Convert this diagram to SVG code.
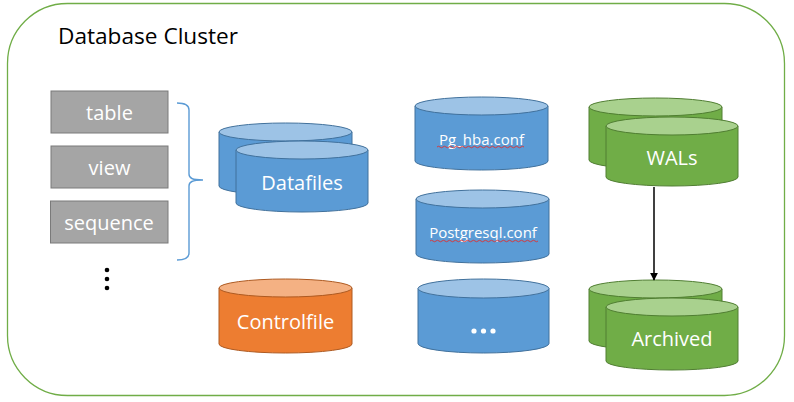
<svg xmlns="http://www.w3.org/2000/svg" width="794" height="402" viewBox="0 0 794 402">
<style>
text{font-family:"Open Sans","Noto Sans","Liberation Sans",sans-serif;fill:#fff;text-anchor:middle;dominant-baseline:central}
.title{fill:#000;text-anchor:start;font-size:21px;dominant-baseline:auto}
.box{fill:#a5a5a5;stroke:#7a7a7a;stroke-width:1}
.bb{fill:#5b9bd5;stroke:#41719c;stroke-width:1}
.bt{fill:#9dc3e6;stroke:#41719c;stroke-width:1}
.gb{fill:#70ad47;stroke:#507e32;stroke-width:1}
.gt{fill:#a9d18e;stroke:#507e32;stroke-width:1}
.ob{fill:#ed7d31;stroke:#ae5a21;stroke-width:1}
.ot{fill:#f4b183;stroke:#ae5a21;stroke-width:1}
.big{font-size:20px}
.small{font-size:15px}
.sq{fill:none;stroke:#e03030;stroke-width:0.9}
</style>
<defs>
<marker id="ah" viewBox="0 0 10 10" refX="9" refY="5" markerWidth="8" markerHeight="8" orient="auto" markerUnits="userSpaceOnUse">
<path d="M0,0 L10,5 L0,10 Z" fill="#000"/>
</marker>
</defs>
<rect x="7.5" y="3.5" width="777" height="392" rx="60" ry="60" fill="#fff" stroke="#70ad47" stroke-width="1.3"/>
<text class="title" x="58" y="44" textLength="180" lengthAdjust="spacingAndGlyphs">Database Cluster</text>

<g id="table"><rect class="box" x="51" y="91" width="117" height="42"/><text class="big" x="109.5" y="112">table</text></g>
<g id="view"><rect class="box" x="51" y="146" width="117" height="42"/><text class="big" x="109.5" y="167">view</text></g>
<g id="sequence"><rect class="box" x="50.5" y="201" width="117.5" height="42"/><text class="big" x="109" y="222">sequence</text></g>
<g id="more-objects"><circle cx="107" cy="270" r="2.3" fill="#000"/><circle cx="107" cy="279" r="2.3" fill="#000"/><circle cx="107" cy="288" r="2.3" fill="#000"/></g>
<g id="brace"><path d="M177,103 C185,103 189,105 189,110 L189,174 C189,178 192,180 203,180 M203,180 C192,180 189,182 189,186 L189,253 C189,258 185,260 177,260" fill="none" stroke="#5b9bd5" stroke-width="1.4"/></g>

<g id="datafiles">
<path class="bb" d="M219,132 L219,186 A66.5,9 0 0 0 352,186 L352,132 Z"/>
<ellipse class="bt" cx="285.5" cy="132" rx="66.5" ry="9"/>
<path class="bb" d="M236,150 L236,203 A66,9 0 0 0 368,203 L368,150 Z"/>
<ellipse class="bt" cx="302" cy="150" rx="66" ry="9"/>
<text class="big" x="302" y="182">Datafiles</text>
</g>

<g id="controlfile">
<path class="ob" d="M219,288 L219,344 A66.5,9 0 0 0 352,344 L352,288 Z"/>
<ellipse class="ot" cx="285.5" cy="288" rx="66.5" ry="9"/>
<text class="big" x="285.5" y="321">Controlfile</text>
</g>

<g id="pg_hba">
<path class="bb" d="M415,106 L415,161 A66.5,9 0 0 0 548,161 L548,106 Z"/>
<ellipse class="bt" cx="481.5" cy="106" rx="66.5" ry="9"/>
<text class="small" x="481.5" y="139">Pg_hba.conf</text>
<path class="sq" d="M437,147 q1.5,-1.5 3,0 t3,0 t3,0 t3,0 t3,0 t3,0 t3,0 t3,0 t3,0 t3,0 t3,0 t3,0 t3,0 t3,0 t3,0 t3,0 t3,0 t3,0 t3,0 t3,0 t3,0 t3,0 t3,0 t3,0 t3,0 t3,0 t3,0 t3,0 t3,0"/>
</g>

<g id="postgresql">
<path class="bb" d="M416,199 L416,254 A66.5,9 0 0 0 549,254 L549,199 Z"/>
<ellipse class="bt" cx="482.5" cy="199" rx="66.5" ry="9"/>
<text class="small" x="483" y="232">Postgresql.conf</text>
<path class="sq" d="M430,241 q1.5,-1.5 3,0 t3,0 t3,0 t3,0 t3,0 t3,0 t3,0 t3,0 t3,0 t3,0 t3,0 t3,0 t3,0 t3,0 t3,0 t3,0 t3,0 t3,0 t3,0 t3,0 t3,0 t3,0 t3,0 t3,0 t3,0 t3,0 t3,0 t3,0 t3,0 t3,0 t3,0 t3,0 t3,0 t3,0 t3,0 t3,0"/>
</g>

<g id="other-conf">
<path class="bb" d="M418,288.5 L418,343.5 A65.5,9.5 0 0 0 549,343.5 L549,288.5 Z"/>
<ellipse class="bt" cx="483.5" cy="288.5" rx="65.5" ry="9.5"/>
<circle cx="474" cy="331" r="2.6" fill="#fff"/><circle cx="483.5" cy="331" r="2.6" fill="#fff"/><circle cx="493" cy="331" r="2.6" fill="#fff"/>
</g>

<g id="wals">
<path class="gb" d="M589,107 L589,160 A66.5,9 0 0 0 722,160 L722,107 Z"/>
<ellipse class="gt" cx="655.5" cy="107" rx="66.5" ry="9"/>
<path class="gb" d="M606,126 L606,177 A66,9 0 0 0 738,177 L738,126 Z"/>
<ellipse class="gt" cx="672" cy="126" rx="66" ry="9"/>
<text class="big" x="672" y="157">WALs</text>
</g>

<g id="archived">
<path class="gb" d="M589,289 L589,341 A66.5,9 0 0 0 722,341 L722,289 Z"/>
<ellipse class="gt" cx="655.5" cy="289" rx="66.5" ry="9"/>
<path class="gb" d="M606,307 L606,361 A66,9 0 0 0 738,361 L738,307 Z"/>
<ellipse class="gt" cx="672" cy="307" rx="66" ry="9"/>
<text class="big" x="672" y="338">Archived</text>
</g>

<g id="connectors">
<line x1="654" y1="187" x2="654" y2="280" stroke="#000" stroke-width="1.5" marker-end="url(#ah)"/>
</g>
</svg>
